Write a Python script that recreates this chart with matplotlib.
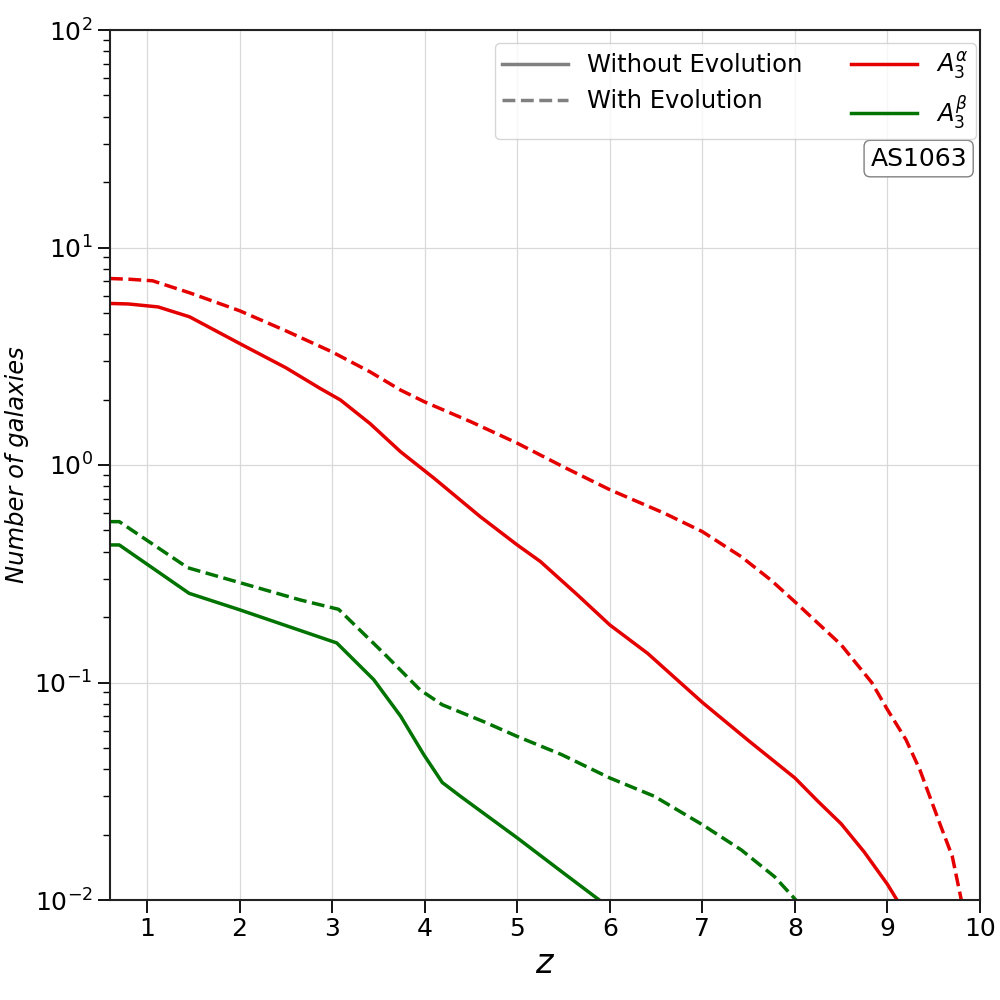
import matplotlib
matplotlib.use('Agg')
import matplotlib.pyplot as plt
from matplotlib.lines import Line2D

# redshift samples and number of galaxies
z_red_solid = [0.6, 0.8, 1.12, 1.46, 2.0, 2.5, 2.87, 3.09, 3.41, 3.74, 4.1, 4.6, 5.0, 5.25,
               5.65, 6.0, 6.41, 7.0, 7.5, 8.0, 8.25, 8.5, 8.75, 9.0, 9.11]
n_red_solid = [5.53, 5.5, 5.33, 4.8, 3.62, 2.8, 2.25, 1.99, 1.55, 1.15, 0.87, 0.579, 0.429,
               0.36, 0.253, 0.184, 0.136, 0.081, 0.054, 0.0364, 0.0284, 0.0224, 0.0166,
               0.0118, 0.0099]

z_red_dash = [0.6, 0.8, 1.06, 1.46, 2.0, 2.5, 3.0, 3.41, 3.74, 4.0, 4.5, 5.0, 5.5, 6.0, 6.59,
              7.0, 7.42, 7.74, 8.0, 8.5, 8.83, 9.0, 9.2, 9.35, 9.57, 9.7, 9.8]
n_red_dash = [7.2, 7.15, 7.03, 6.19, 5.12, 4.14, 3.31, 2.68, 2.21, 1.95, 1.58, 1.26, 0.98,
              0.77, 0.6, 0.494, 0.379, 0.296, 0.235, 0.149, 0.1, 0.075, 0.0546, 0.0397,
              0.0222, 0.0159, 0.0099]

z_green_solid = [0.6, 0.7, 1.455, 2.0, 3.05, 3.45, 3.74, 3.99, 4.19, 4.39, 5.0, 5.48, 5.9]
n_green_solid = [0.429, 0.429, 0.257, 0.216, 0.152, 0.103, 0.070, 0.0466, 0.0347, 0.0299,
                 0.0193, 0.0135, 0.0099]

z_green_dash = [0.6, 0.7, 1.44, 2.0, 2.65, 3.07, 3.56, 3.95, 4.19, 4.64, 5.0, 5.48, 6.0,
                6.48, 7.0, 7.42, 7.78, 8.02]
n_green_dash = [0.549, 0.549, 0.337, 0.288, 0.240, 0.217, 0.136, 0.0925, 0.079, 0.066,
                0.0565, 0.0466, 0.0364, 0.030, 0.0222, 0.0170, 0.0128, 0.0099]

red = '#e50000'
green = '#007300'

fig, ax = plt.subplots(figsize=(10, 10), dpi=100)
fig.subplots_adjust(left=0.11, right=0.98, top=0.97, bottom=0.1)

lw = 2.5
ax.plot(z_red_solid, n_red_solid, color=red, lw=lw)
ax.plot(z_red_dash, n_red_dash, color=red, lw=lw, ls='--')
ax.plot(z_green_solid, n_green_solid, color=green, lw=lw)
ax.plot(z_green_dash, n_green_dash, color=green, lw=lw, ls='--')

ax.set_yscale('log')
ax.set_xlim(0.6, 10)
ax.set_ylim(1e-2, 1e2)
ax.set_xticks(range(1, 11))
ax.grid(True, which='major', color='#d9d9d9', lw=0.9)

ax.tick_params(axis='both', which='major', labelsize=18, length=9, width=1.3, direction='out')
ax.tick_params(axis='y', which='minor', length=5, width=1.0)
for s in ax.spines.values():
    s.set_linewidth(1.5)
    s.set_color('#222222')

ax.set_xlabel('$z$', fontsize=24)
ax.set_ylabel('Number of galaxies', fontsize=17.5, style='italic')

handles = [Line2D([], [], color='gray', lw=lw),
           Line2D([], [], color='gray', lw=lw, ls='--'),
           Line2D([], [], color=red, lw=lw),
           Line2D([], [], color=green, lw=lw)]
labels = ['Without Evolution', 'With Evolution', r'$A_3^\alpha$', r'$A_3^\beta$']
ax.legend(handles, labels, ncol=2, loc='upper right', fontsize=17.5,
          bbox_to_anchor=(0.9955, 0.985), borderaxespad=0, borderpad=0.3,
          columnspacing=2.0, handlelength=2.7)

ax.text(0.985, 0.866, 'AS1063', transform=ax.transAxes, ha='right', va='top', fontsize=18,
        bbox=dict(boxstyle='round,pad=0.25', fc='white', ec='gray'))

fig.savefig('out.png', dpi=100)
